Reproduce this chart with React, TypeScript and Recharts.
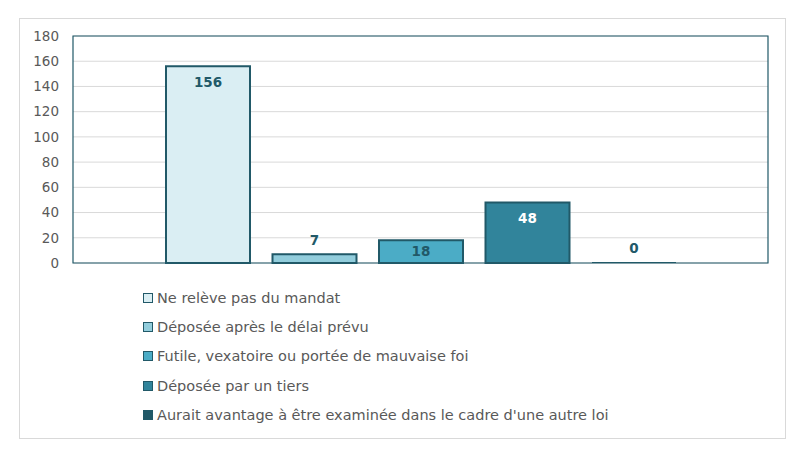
import { BarChart, Bar, XAxis, YAxis, CartesianGrid, ReferenceArea } from 'recharts'

const seriesNames = [
  'Ne relève pas du mandat',
  'Déposée après le délai prévu',
  'Futile, vexatoire ou portée de mauvaise foi',
  'Déposée par un tiers',
  "Aurait avantage à être examinée dans le cadre d'une autre loi",
]
const seriesValues = [156, 7, 18, 48, 0]
const seriesColors = ['#DAEEF3', '#92CDDC', '#4BACC6', '#31849B', '#215968']
const labelPositions = ['insideTop', 'top', 'center', 'insideTop', 'top']
const labelColors = ['#215968', '#215968', '#215968', '#FFFFFF', '#215968']
const yTicks = [0, 20, 40, 60, 80, 100, 120, 140, 160, 180]

const dark = '#215968'
const font = "'DejaVu Sans', sans-serif"

const row: Record<string, string | number> = { name: '' }
seriesNames.forEach((_, i) => {
  row['s' + i] = seriesValues[i]
})
const data = [row]

function LegendBox() {
  return (
    <div
      style={{
        position: 'absolute',
        left: 123,
        top: 264,
        fontFamily: font,
        fontSize: 14.5,
        color: '#595959',
      }}
    >
      {seriesNames.map((name, i) => (
        <div key={name} style={{ display: 'flex', alignItems: 'center', height: 29.4 }}>
          <span
            style={{
              width: 8,
              height: 8,
              background: seriesColors[i],
              border: `1.5px solid ${dark}`,
              marginRight: 4,
              display: 'inline-block',
            }}
          />
          {name}
        </div>
      ))}
    </div>
  )
}

export default function App() {
  return (
    <div style={{ position: 'relative', width: 796, height: 442 }}>
      <div
        style={{
          position: 'absolute',
          left: 11,
          top: 10,
          width: 765,
          height: 419,
          border: '1px solid #D9D9D9',
          background: '#fff',
        }}
      >
        <BarChart
          width={765}
          height={419}
          data={data}
          margin={{ top: 17, right: 17, bottom: 175, left: 13 }}
          barSize={84}
          barGap={22.5}
        >
          <CartesianGrid vertical={false} stroke="#D9D9D9" />
          <XAxis dataKey="name" hide />
          <YAxis
            width={40}
            domain={[0, 180]}
            ticks={yTicks}
            axisLine={false}
            tickLine={false}
            tick={{ fill: '#595959', fontSize: 13.5, fontFamily: font }}
            tickMargin={8}
          />
          <ReferenceArea y1={0} y2={180} fill="none" stroke={dark} strokeWidth={1.2} ifOverflow="visible" />
          {seriesNames.map((name, i) => (
            <Bar
              key={name}
              dataKey={'s' + i}
              name={name}
              fill={seriesColors[i]}
              stroke={seriesValues[i] ? dark : 'none'}
              strokeWidth={2}
              minPointSize={1}
              isAnimationActive={false}
              label={{
                position: labelPositions[i] as any,
                offset: labelPositions[i] === 'top' ? 9 : 11,
                fill: labelColors[i],
                fontSize: 13.5,
                fontWeight: 'bold',
                fontFamily: font,
              }}
            />
          ))}
        </BarChart>
        <LegendBox />
      </div>
    </div>
  )
}
